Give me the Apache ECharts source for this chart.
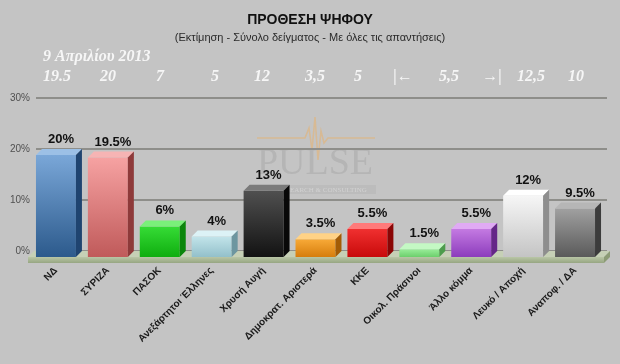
<!DOCTYPE html>
<html><head><meta charset="utf-8">
<script src="https://cdn.jsdelivr.net/npm/echarts@6/dist/echarts.min.js"></script>
<style>html,body{margin:0;padding:0;background:#c4c4c4;}#c{width:620px;height:364px;}</style>
</head><body><div id="c"></div>
<script>
// ---- data ----
const categories = ['ΝΔ','ΣΥΡΙΖΑ','ΠΑΣΟΚ','Ανεξάρτητοι Έλληνες','Χρυσή Αυγή','Δημοκρατ. Αριστερά','ΚΚΕ','Οικολ. Πράσινοι','Άλλο κόμμα','Λευκό / Αποχή','Αναποφ. / ΔΑ'];
const values = [20, 19.5, 6, 4, 13, 3.5, 5.5, 1.5, 5.5, 12, 9.5];
const yTicks = [0, 10, 20, 30];
const dateLabel = '9 Απριλίου 2013';
const prevLabels = ['19.5','20','7','5','12','3,5','5','|←','5,5','→|','12,5','10'];
const titleText = 'ΠΡΟΘΕΣΗ ΨΗΦΟΥ';
const subtitleText = '(Εκτίμηση - Σύνολο δείγματος - Με όλες τις απαντήσεις)';

// ---- styles / layout ----
const prevX = [57,108,160,215,262,315,358,403,449,492,531,576];
const palette = [
  {top:'#9cc0e6', a:'#7aa7d8', b:'#2c5a8c', side:'#1f4470'},
  {top:'#f6b4b4', a:'#f6a2a2', b:'#c05a5a', side:'#8e3a3a'},
  {top:'#7af07a', a:'#36dc36', b:'#0fae0f', side:'#0b860b'},
  {top:'#dcf2f6', a:'#c2e4ea', b:'#93c0ca', side:'#6d96a0'},
  {top:'#7a7a7a', a:'#505050', b:'#121212', side:'#080808'},
  {top:'#ffd286', a:'#f8aa38', b:'#d67d0c', side:'#a35c05'},
  {top:'#ff7a7a', a:'#f03030', b:'#c80a0a', side:'#8a0505'},
  {top:'#c4f8c4', a:'#98ec98', b:'#6ccf6c', side:'#4c9c4c'},
  {top:'#e0aaf4', a:'#c47ae2', b:'#8c3cbc', side:'#652688'},
  {top:'#ffffff', a:'#f6f6f6', b:'#c4c4c4', side:'#8e8e8e'},
  {top:'#b6b6b6', a:'#a0a0a0', b:'#5a5a5a', side:'#3c3c3c'}
];
const D = 6; // depth

const chart = echarts.init(document.getElementById('c'), null, {renderer:'canvas'});

function renderBar(params, api) {
  const i = api.value(0), v = api.value(1);
  const p0 = api.coord([i, 0]), p1 = api.coord([i, v]);
  const w = api.size([1, 0])[0] * 0.77;
  const xl = p0[0] - w/2, xr = p0[0] + w/2;
  const yb = p0[1], yt = p1[1];
  const c = palette[i];
  return {
    type: 'group',
    children: [
      {type:'rect', shape:{x:xl, y:yt, width:w, height:yb-yt},
        style:{fill:new echarts.graphic.LinearGradient(0,0,0,1,[{offset:0,color:c.a},{offset:1,color:c.b}])}},
      {type:'polygon', shape:{points:[[xl,yt],[xr,yt],[xr+D,yt-D],[xl+D,yt-D]]}, style:{fill:c.top}},
      {type:'polygon', shape:{points:[[xr,yt],[xr+D,yt-D],[xr+D,yb-D],[xr,yb]]}, style:{fill:c.side}},
      {type:'text', style:{text: v + '%', x: p0[0] + 5, y: yt - D - 3, align:'center', verticalAlign:'bottom',
        font:'bold 13px "Liberation Sans", Arial, sans-serif', fill:'#111'}}
    ]
  };
}

function renderFloor(params, api) {
  const cs = params.coordSys;
  const base = cs.y + cs.height;
  const x0 = cs.x - 2, x1 = cs.x + cs.width + 3;
  return {
    type:'group',
    children:[
      {type:'polygon', shape:{points:[[x0,base],[x1,base],[x1+D,base-D],[x0+D,base-D]]}, style:{fill:'#c6d0b6'}},
      {type:'rect', shape:{x:x0, y:base, width:x1-x0, height:6},
        style:{fill:new echarts.graphic.LinearGradient(0,0,0,1,[{offset:0,color:'#b9c6a6'},{offset:1,color:'#97a682'}])}},
      {type:'polygon', shape:{points:[[x1,base],[x1+D,base-D],[x1+D,base],[x1,base+6]]}, style:{fill:'#8c9b76'}}
    ]
  };
}

const graphics = [
  {type:'text', left:43, top:49, style:{text:dateLabel, font:'italic bold 16px "Liberation Serif", "Times New Roman", serif', fill:'#f6f6f6'}}
];
prevLabels.forEach((t, k) => {
  graphics.push({type:'text', x: prevX[k], y: 77, style:{text:t, align:'center', verticalAlign:'middle',
    font:'italic bold 16px "Liberation Serif", "Times New Roman", serif', fill:'#f6f6f6'}});
});
// faint watermark
graphics.push(
  {type:'polyline', z:-1, shape:{points:[[257,138],[305,138],[309,128],[312,150],[315,117],[318,160],[321,131],[324,143],[328,138],[375,138]]},
    style:{stroke:'rgba(236,176,100,0.5)', lineWidth:1.5, fill:null}},
  {type:'text', z:-1, x:315, y:164, style:{text:'PULSE', align:'center', verticalAlign:'middle',
    font:'38px "Liberation Serif", "Times New Roman", serif', fill:'#b5b5b5'}},
  {type:'rect', z:-1, shape:{x:268, y:185, width:108, height:9}, style:{fill:'#bcbcbc'}},
  {type:'text', z:-1, x:322, y:190, style:{text:'RESEARCH & CONSULTING', align:'center', verticalAlign:'middle',
    font:'7px "Liberation Serif", serif', fill:'#d2d2d2'}}
);

chart.setOption({
  backgroundColor:'#c4c4c4',
  animation:false,
  title:{
    text:titleText, subtext:subtitleText, left:'center', top:8, itemGap:5,
    textStyle:{fontFamily:'"Liberation Sans", Arial, sans-serif', fontSize:14, fontWeight:'bold', color:'#111'},
    subtextStyle:{fontFamily:'"Liberation Sans", Arial, sans-serif', fontSize:11, color:'#2a2a2a'}
  },
  graphic: graphics,
  grid:[
    {left:30, right:19, top:104, bottom:107},
    {left:36, right:13, top:98, bottom:113}
  ],
  xAxis:[
    {type:'category', gridIndex:0, data:categories, axisLine:{show:false}, axisTick:{show:false},
      axisLabel:{interval:0, rotate:45, margin:12, fontSize:10, fontWeight:'bold', color:'#1a1a1a',
        fontFamily:'"Liberation Sans", Arial, sans-serif'}},
    {type:'category', gridIndex:1, data:categories, show:false}
  ],
  yAxis:[
    {type:'value', gridIndex:0, min:0, max:30, interval:10, show:false},
    {type:'value', gridIndex:1, min:yTicks[0], max:yTicks[yTicks.length-1], interval:10,
      axisLine:{show:false}, axisTick:{show:false},
      axisLabel:{formatter:'{value}%', margin:6, fontSize:10, color:'#505050', fontFamily:'"Liberation Sans", Arial, sans-serif'},
      splitLine:{lineStyle:{color:'#8e8e8a', width:2}}}
  ],
  series:[
    {type:'custom', xAxisIndex:0, yAxisIndex:0, renderItem:renderFloor, data:[[0,0]], z:1, silent:true},
    {type:'custom', xAxisIndex:0, yAxisIndex:0, renderItem:renderBar,
      data: values.map((v, i) => [i, v]), encode:{x:0, y:1}, z:3}
  ]
});
</script>
</body></html>
